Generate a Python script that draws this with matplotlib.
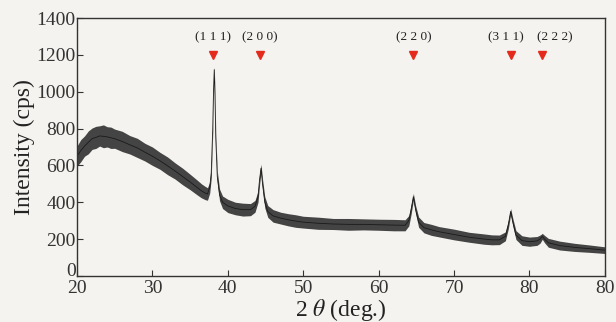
import matplotlib.pyplot as plt
from matplotlib.transforms import ScaledTranslation

# XRD pattern: 2theta, mid intensity, half width of the noise band
two_theta = [20, 20.5, 21, 21.5, 22, 22.5, 23, 23.5, 24, 24.5, 25, 26, 27, 28, 29, 30,
             31, 32, 33, 34, 35, 36, 36.5, 37, 37.3, 37.6, 37.8, 38.0, 38.1, 38.2, 38.3,
             38.4, 38.6, 38.9, 39.3, 40, 41, 42, 43, 43.6, 44.0, 44.2, 44.4, 44.6, 44.9,
             45.3, 46, 47, 48, 49, 50, 52, 54, 56, 58, 60, 62, 63.5, 64.0, 64.3, 64.6,
             64.9, 65.3, 66, 67, 68, 70, 72, 74, 75, 76, 76.8, 77.2, 77.5, 77.8, 78.2,
             79, 80, 81, 81.4, 81.7, 82.0, 82.5, 84, 86, 88, 90]
intensity = [650, 680, 705, 725, 745, 752, 760, 758, 755, 750, 745, 730, 712, 695, 672, 650,
             625, 598, 570, 540, 510, 478, 462, 450, 445, 480, 560, 800, 1000, 1120, 980,
             750, 540, 440, 400, 380, 366, 360, 360, 378, 430, 520, 585, 500, 400,
             350, 326, 314, 305, 298, 292, 286, 282, 280, 280, 278, 276, 275, 300, 360, 430,
             360, 292, 262, 250, 240, 225, 210, 200, 196, 196, 215, 280, 350, 290, 222,
             192, 186, 190, 200, 215, 200, 180, 165, 155, 148, 140]
spread = [55, 60, 55, 62, 58, 60, 55, 62, 55, 58, 52, 55, 50, 52, 48, 50,
          46, 48, 44, 45, 42, 40, 38, 36, 34, 30, 30, 25, 20, 15, 20,
          25, 30, 32, 34, 36, 34, 35, 33, 32, 30, 28, 22, 26, 30,
          32, 34, 32, 33, 34, 32, 33, 30, 32, 30, 30, 31, 30, 28, 25, 18,
          22, 28, 28, 30, 28, 29, 27, 28, 27, 26, 24, 22, 16, 20, 24,
          26, 25, 24, 22, 16, 20, 24, 24, 22, 20, 18]

peak_pos = [38.0, 44.3, 64.6, 77.6, 81.7]
peak_labels = ['(1 1 1)', '(2 0 0)', '(2 2 0)', '(3 1 1)', '(2 2 2)']
marker_y = 1200

x_ticks = [20, 30, 40, 50, 60, 70, 80, 90]
x_tick_labels = ['20', '30', '40', '50', '60', '70', '80', '80']
y_ticks = [0, 200, 400, 600, 800, 1000, 1200, 1400]

plt.rcParams['font.family'] = ['Liberation Serif', 'DejaVu Serif']
plt.rcParams['mathtext.fontset'] = 'stix'
bg = '#f4f3ef'

fig = plt.figure(figsize=(6.16, 3.22), dpi=100, facecolor=bg)
ax = fig.add_axes([0.125, 0.143, 0.857, 0.801], facecolor=bg)

low = [c - s for c, s in zip(intensity, spread)]
high = [c + s for c, s in zip(intensity, spread)]
ax.fill_between(two_theta, low, high, color='#444444', linewidth=0)
ax.plot(two_theta, intensity, color='#1a1a1a', linewidth=0.6)

ax.plot(peak_pos, [marker_y] * len(peak_pos), linestyle='none', marker='v',
        markersize=6, color='#e42a1c')
# the two right-hand labels sit a bit apart from their markers in the reference
nudge = [0, 0, 0, -4, 9]
for p, lab, dx in zip(peak_pos, peak_labels, nudge):
    ax.annotate(lab, (p, marker_y), xytext=(dx, 8), textcoords='offset points',
                ha='center', va='bottom', fontsize=9.5, color='#222222')

ax.set_xlim(20, 90)
ax.set_ylim(0, 1400)
ax.set_xticks(x_ticks)
ax.set_xticklabels(x_tick_labels)
ax.set_yticks(y_ticks)
ax.tick_params(direction='in', labelsize=14, length=4, colors='#333333', pad=1)
ax.tick_params(axis='x', pad=3)
for sp in ax.spines.values():
    sp.set_color('#333333')
    sp.set_linewidth(1.0)

# the reference puts "0" a little above the axis corner
ylab0 = ax.get_yticklabels()[0]
ylab0.set_transform(ylab0.get_transform() + ScaledTranslation(0, 5 / 72, fig.dpi_scale_trans))

ax.set_xlabel(r'2 $\mathit{\theta}$ (deg.)', fontsize=17, labelpad=0, color='#222222')
ax.set_ylabel('Intensity (cps)', fontsize=17, labelpad=1, color='#222222')

fig.savefig('out.png', dpi=100, facecolor=bg)
